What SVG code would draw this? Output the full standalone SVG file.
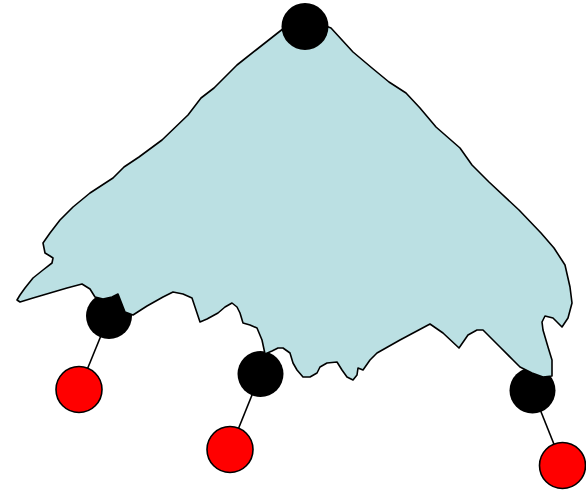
<svg xmlns="http://www.w3.org/2000/svg" width="586" height="491" viewBox="0 0 586 491">
<style>
.blk{fill:#000;stroke:none}
.red{fill:#ff0000;stroke:#000;stroke-width:1.6}
.edge{stroke:#000;stroke-width:1.6;fill:none}
.blob{fill:#bbe0e3;stroke:#000;stroke-width:1.6;stroke-linejoin:round}
</style>
<rect width="586" height="491" fill="#fff"/>
<g id="connectors">
<line class="edge" x1="109" y1="316" x2="79" y2="389.5"/>
<line class="edge" x1="260.5" y1="374" x2="230" y2="449.5"/>
<line class="edge" x1="532.5" y1="390.5" x2="562.5" y2="465.5"/>
</g>
<g id="node-b1"><circle class="blk" cx="109" cy="316" r="23"/></g>
<g id="node-b2"><circle class="blk" cx="260.5" cy="374" r="23"/></g>
<g id="node-b3"><circle class="blk" cx="532.5" cy="390.5" r="23"/></g>
<g id="node-r1"><circle class="red" cx="79" cy="389.5" r="23"/></g>
<g id="node-r2"><circle class="red" cx="230" cy="449.5" r="23"/></g>
<g id="node-r3"><circle class="red" cx="562.5" cy="465.5" r="23"/></g>
<g id="subtree">
<path class="blob" d="M284,28 L305,18 L331,28 L353,52 L372,68 L389,82 L406,93 L420,108 L436,127 L460,148 L472,165 L489,182 L519,210 L541,233 L554,248 L565,265 L570,287 L572,303 L568,318 L562,327 L553,318 L545,316 L542,322 L543,330 L548,347 L552,360 L552,376 L543,377 L532,373 L520,367 L513,360 L500,347 L483,330 L477,330 L468,335 L459,348 L443,333 L430,324 L400,340 L377,353 L370,360 L363,370 L358,368 L357,375 L353,380 L347,377 L342,370 L337,362 L327,363 L320,367 L317,373 L310,377 L303,377 L297,370 L293,363 L290,353 L283,348 L278,348 L272,351 L265,354 L262,340 L257,328 L250,325 L243,323 L240,313 L237,307 L232,303 L225,307 L218,313 L207,319 L200,322 L197,313 L192,298 L183,294 L173,292 L163,297 L147,306 L133,315 L125,312 L118,294 L112,297 L103,299 L95,297 L90,289 L82,284 L67,288 L33,298 L20,302 L17,300 L20,295 L25,288 L33,278 L43,270 L52,263 L53,258 L50,256 L45,253 L43,243 L50,233 L60,220 L73,207 L90,193 L113,178 L124,167 L139,157 L162,140 L188,115 L201,98 L214,88 L237,65 L256,50 Z"/>
</g>
<g id="node-root"><circle class="blk" cx="305" cy="26.5" r="23.5"/></g>
</svg>
